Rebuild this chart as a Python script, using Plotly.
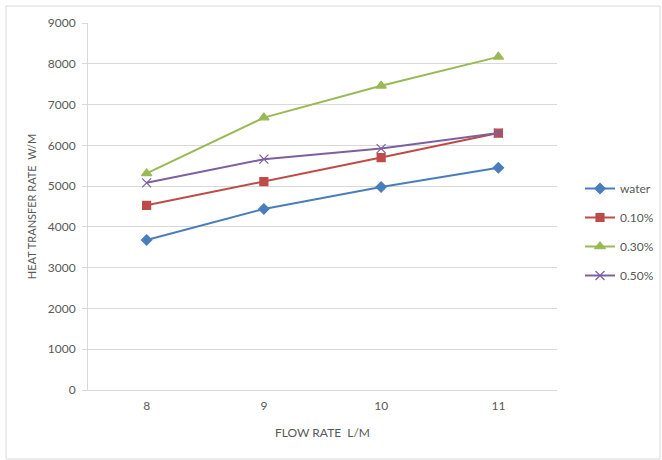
import plotly.graph_objects as go

flow_rate = ["8", "9", "10", "11"]
water = [3680, 4440, 4980, 5450]
pct_010 = [4530, 5110, 5700, 6300]
pct_030 = [5310, 6680, 7460, 8170]
pct_050 = [5080, 5660, 5920, 6300]

series = [
    ("water", water, "#4a7ebb", "diamond", 8),
    ("0.10%", pct_010, "#be4b48", "square", 8),
    ("0.30%", pct_030, "#98b954", "triangle-up", 9),
    ("0.50%", pct_050, "#7d60a0", "x-thin", 9),
]

fig = go.Figure()
for name, vals, color, sym, size in series:
    fig.add_trace(go.Scatter(
        x=flow_rate, y=vals, name=name, mode="lines+markers", legendgroup=name,
        line=dict(color=color, width=2),
        marker=dict(symbol=sym, size=size, color=color,
                    line=dict(color=color, width=1.2)),
    ))

font = "Lato, 'Open Sans', sans-serif"
L, R, T, B = 88, 105, 23, 70
W, H = 662, 460
pw, ph = W - L - R, H - T - B

def px_x(p):
    return (p - L) / pw

def px_y(p):
    return (H - B - p) / ph

fig.update_layout(
    width=W, height=H,
    margin=dict(l=L, r=R, t=T, b=B, autoexpand=False),
    paper_bgcolor="white", plot_bgcolor="white",
    font=dict(family=font, size=12, color="#595959"),
    showlegend=True,
    legend=dict(x=px_x(580), y=px_y(174), xanchor="left", yanchor="top",
                font=dict(size=12, color="#595959"), tracegroupgap=10,
                itemwidth=30, bgcolor="rgba(0,0,0,0)"),
    xaxis=dict(type="category", range=[-0.5, 3.5], showgrid=False,
               showline=True, linecolor="#d9d9d9", linewidth=1,
               ticks="", ticklabelstandoff=5, tickfont=dict(size=12, color="#595959"),
               title=dict(text="FLOW RATE  L/M", font=dict(size=12, color="#595959"), standoff=16),
               zeroline=False),
    yaxis=dict(range=[0, 9000], dtick=1000, showgrid=True, gridcolor="#d9d9d9",
               gridwidth=1, showline=True, linecolor="#d9d9d9", linewidth=1,
               ticks="outside", ticklen=5, tickcolor="#d9d9d9", ticklabelstandoff=4,
               tickfont=dict(size=12, color="#595959"),
               title=dict(text="HEAT TRANSFER RATE  W/M", font=dict(size=11, color="#595959"), standoff=8),
               zeroline=False),
    shapes=[dict(type="rect", xref="paper", yref="paper",
                 x0=px_x(6), x1=px_x(660), y0=px_y(459), y1=px_y(6),
                 line=dict(color="#d9d9d9", width=1), fillcolor="rgba(0,0,0,0)", layer="below")],
)

fig.write_html("out.html")
